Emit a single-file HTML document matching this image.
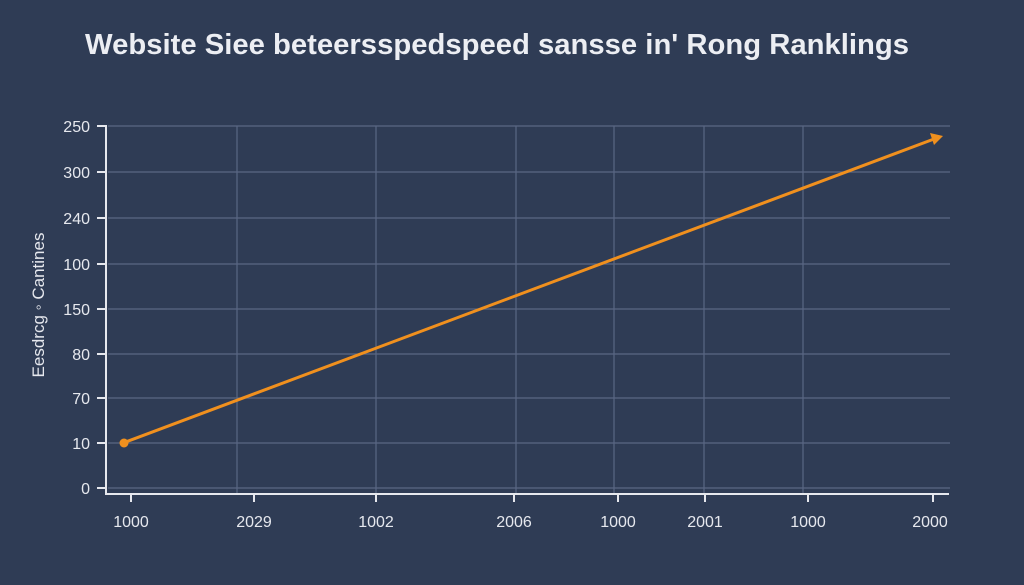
<!DOCTYPE html>
<html><head><meta charset="utf-8"><style>
html,body{margin:0;padding:0;background:#2f3c55;}
svg{display:block;font-family:"Liberation Sans",sans-serif;}
</style></head><body>
<svg width="1024" height="585" viewBox="0 0 1024 585">
<rect width="1024" height="585" fill="#2f3c55"/>
<text x="497" y="54" text-anchor="middle" font-size="29" font-weight="bold" fill="#eceef3" textLength="824" lengthAdjust="spacingAndGlyphs">Website Siee beteersspedspeed sansse in' Rong Ranklings</text>
<g stroke="#5a6784" stroke-width="1.2">
<line x1="108" y1="126" x2="950" y2="126"/><line x1="108" y1="172" x2="950" y2="172"/>
<line x1="108" y1="218" x2="950" y2="218"/><line x1="108" y1="264" x2="950" y2="264"/>
<line x1="108" y1="309" x2="950" y2="309"/><line x1="108" y1="354" x2="950" y2="354"/>
<line x1="108" y1="398" x2="950" y2="398"/><line x1="108" y1="443" x2="950" y2="443"/>
<line x1="108" y1="488" x2="950" y2="488"/>
<line x1="237" y1="126" x2="237" y2="493"/><line x1="376" y1="126" x2="376" y2="493"/>
<line x1="516" y1="126" x2="516" y2="493"/><line x1="614" y1="126" x2="614" y2="493"/>
<line x1="704" y1="126" x2="704" y2="493"/><line x1="803" y1="126" x2="803" y2="493"/>
</g>
<g stroke="#e6e8ee" stroke-width="2">
<line x1="106" y1="125" x2="106" y2="494"/><line x1="105" y1="494" x2="949" y2="494"/>
<line x1="97" y1="126" x2="106" y2="126"/><line x1="97" y1="172" x2="106" y2="172"/>
<line x1="97" y1="218" x2="106" y2="218"/><line x1="97" y1="264" x2="106" y2="264"/>
<line x1="97" y1="309" x2="106" y2="309"/><line x1="97" y1="354" x2="106" y2="354"/>
<line x1="97" y1="398" x2="106" y2="398"/><line x1="97" y1="443" x2="106" y2="443"/>
<line x1="97" y1="488" x2="106" y2="488"/>
<line x1="131" y1="494" x2="131" y2="502"/><line x1="254" y1="494" x2="254" y2="502"/>
<line x1="376" y1="494" x2="376" y2="502"/><line x1="514" y1="494" x2="514" y2="502"/>
<line x1="618" y1="494" x2="618" y2="502"/><line x1="705" y1="494" x2="705" y2="502"/>
<line x1="808" y1="494" x2="808" y2="502"/><line x1="933" y1="494" x2="933" y2="502"/>
</g>
<g fill="#e6e8ee" font-size="16" text-anchor="end">
<text x="90" y="132">250</text><text x="90" y="178">300</text><text x="90" y="224">240</text>
<text x="90" y="270">100</text><text x="90" y="315">150</text><text x="90" y="360">80</text>
<text x="90" y="404">70</text><text x="90" y="449">10</text><text x="90" y="494">0</text>
</g>
<g fill="#e6e8ee" font-size="16" text-anchor="middle">
<text x="131" y="527">1000</text><text x="254" y="527">2029</text><text x="376" y="527">1002</text>
<text x="514" y="527">2006</text><text x="618" y="527">1000</text><text x="705" y="527">2001</text>
<text x="808" y="527">1000</text><text x="930" y="527">2000</text>
</g>
<text transform="translate(44,305) rotate(-90)" text-anchor="middle" font-size="17" fill="#e6e8ee">Eesdrcg ◦ Cantines</text>
<line x1="123" y1="443" x2="934" y2="139" stroke="#f0901e" stroke-width="3"/>
<polygon points="943,136 930,133 934,145" fill="#f0901e"/>
<circle cx="124" cy="443" r="4.5" fill="#f0901e"/>
</svg>
</body></html>
